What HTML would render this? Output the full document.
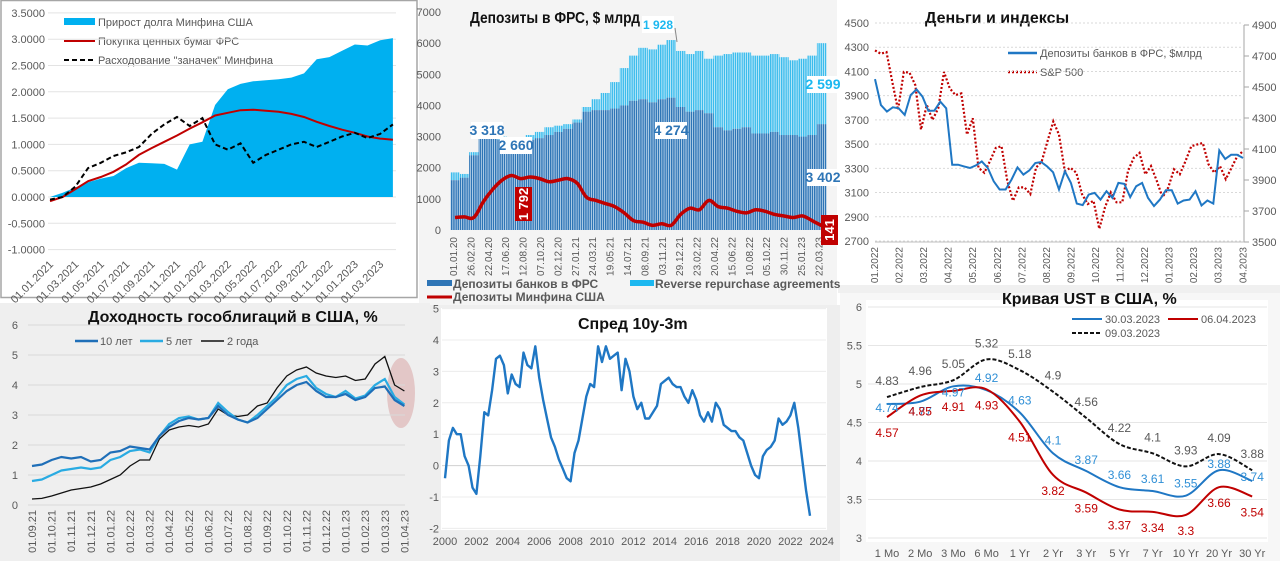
<!DOCTYPE html>
<html><head><meta charset="utf-8">
<style>
html,body{margin:0;padding:0;background:#fff;}
svg{display:block;font-family:"Liberation Sans","DejaVu Sans",sans-serif;}
.tk{font-size:11px;fill:#595959;}
.tks{font-size:10px;fill:#595959;}
.ttl{font-size:16px;font-weight:bold;fill:#111;}
.lg{font-size:11px;fill:#595959;}
</style></head>
<body>
<svg id="chart" width="1280" height="561" viewBox="0 0 1280 561" xmlns="http://www.w3.org/2000/svg">
<defs>
<pattern id="stDark" patternUnits="userSpaceOnUse" width="2.2" height="10"><rect width="2.2" height="10" fill="#dcebf7"/><rect width="1.5" height="10" fill="#2e75b6"/></pattern>
<pattern id="stLight" patternUnits="userSpaceOnUse" width="2.2" height="10"><rect width="2.2" height="10" fill="#e6f6fd"/><rect width="1.5" height="10" fill="#3cbcec"/></pattern>
</defs>
<rect x="0" y="0" width="1280" height="561" fill="#ffffff"/>
<rect x="1" y="0.5" width="416" height="297" fill="#fff" stroke="#a6a6a6" stroke-width="1.5"/>
<rect x="419" y="0" width="418" height="305" fill="#f4f4f4"/>
<rect x="838" y="285" width="442" height="8" fill="#f0f0f0"/>
<rect x="0" y="303" width="430" height="258" fill="#efefef"/>
<rect x="430" y="305" width="410" height="256" fill="#eeeeee"/>
<rect x="441" y="308" width="386" height="222" fill="#ffffff"/>
<rect x="840" y="293" width="440" height="268" fill="#f7f7f7"/>
<rect x="866" y="300" width="402" height="242" fill="#ffffff"/>

<text class="ttl" x="470" y="23" font-size="16" textLength="170" lengthAdjust="spacingAndGlyphs">Депозиты в ФРС, $ млрд</text>
<text class="ttl" x="925" y="23">Деньги и индексы</text>
<text class="ttl" x="88" y="322">Доходность гособлигаций в США, %</text>
<text class="ttl" x="578" y="329">Спред 10y-3m</text>
<text class="ttl" x="1002" y="304">Кривая UST в США, %</text>

<rect x="64" y="18" width="31" height="7" fill="#00b0f0"/>
<text class="lg" x="98" y="26">Прирост долга Минфина США</text>
<line x1="64" y1="41" x2="95" y2="41" stroke="#c00000" stroke-width="2"/>
<text class="lg" x="98" y="45">Покупка ценных бумаг ФРС</text>
<line x1="64" y1="60" x2="95" y2="60" stroke="#000" stroke-width="2" stroke-dasharray="5,3"/>
<text class="lg" x="98" y="64">Расходование "заначек" Минфина</text>

<rect x="427" y="280" width="25" height="6" fill="#2e75b6"/>
<text x="453" y="288" font-size="12" font-weight="bold" fill="#595959">Депозиты банков в ФРС</text>
<rect x="630" y="280" width="24" height="6" fill="#1cb8f0"/>
<text x="655" y="288" font-size="12" font-weight="bold" fill="#595959">Reverse repurchase agreements</text>
<line x1="427" y1="297" x2="452" y2="297" stroke="#c00000" stroke-width="3"/>
<text x="453" y="301" font-size="12" font-weight="bold" fill="#595959">Депозиты Минфина США</text>

<line x1="1008" y1="53" x2="1037" y2="53" stroke="#1f77c4" stroke-width="2.5"/>
<text class="lg" x="1040" y="57">Депозиты банков в ФРС, $млрд</text>
<line x1="1008" y1="72" x2="1037" y2="72" stroke="#c00000" stroke-width="2.5" stroke-dasharray="2,2"/>
<text class="lg" x="1040" y="76">S&amp;P 500</text>

<line x1="75" y1="341" x2="98" y2="341" stroke="#1f6fb8" stroke-width="2.5"/>
<text class="lg" x="100" y="345">10 лет</text>
<line x1="140" y1="341" x2="163" y2="341" stroke="#29abe2" stroke-width="2.5"/>
<text class="lg" x="166" y="345">5 лет</text>
<line x1="201" y1="341" x2="224" y2="341" stroke="#111" stroke-width="1.5"/>
<text class="lg" x="227" y="345">2 года</text>
<ellipse cx="401" cy="393" rx="14" ry="35" fill="#d9a5a5" opacity="0.55"/>

<line x1="1072" y1="319" x2="1102" y2="319" stroke="#1f77c4" stroke-width="2"/>
<text class="lg" x="1105" y="323">30.03.2023</text>
<line x1="1168" y1="319" x2="1198" y2="319" stroke="#c00000" stroke-width="2"/>
<text class="lg" x="1201" y="323">06.04.2023</text>
<line x1="1072" y1="333" x2="1102" y2="333" stroke="#111" stroke-width="2" stroke-dasharray="4,2"/>
<text class="lg" x="1105" y="337">09.03.2023</text>
</svg>
<script>
const p1Months = [0,1,2,3,4,5,6,7,8,9,10,11,12,13,14,15,16,17,18,19,20,21,22,23,24,25,26,27];
const p1Debt = [0,0.08,0.18,0.28,0.35,0.4,0.55,0.65,0.64,0.63,0.52,1.0,1.05,1.75,2.05,2.15,2.2,2.22,2.24,2.27,2.35,2.62,2.66,2.78,2.9,2.88,2.98,3.02];
const p1Fed = [-0.08,0.0,0.15,0.3,0.38,0.48,0.62,0.8,0.93,1.05,1.17,1.3,1.42,1.55,1.6,1.65,1.66,1.64,1.62,1.58,1.52,1.43,1.35,1.28,1.22,1.15,1.11,1.09];
const p1Stash = [-0.05,0.0,0.2,0.55,0.65,0.78,0.85,0.95,1.2,1.38,1.52,1.35,1.5,1.0,0.9,1.02,0.65,0.8,0.9,1.0,1.05,0.95,1.05,1.15,1.22,1.12,1.2,1.38];
const p1Ticks = [-1,-0.5,0,0.5,1,1.5,2,2.5,3,3.5];
const p1Labels = ['01.01.2021','01.03.2021','01.05.2021','01.07.2021','01.09.2021','01.11.2021','01.01.2022','01.03.2022','01.05.2022','01.07.2022','01.09.2022','01.11.2022','01.01.2023','01.03.2023'];
const p2Banks = [1600,1680,2400,3000,3200,2900,2700,2750,2900,2950,3050,3150,3250,3450,3800,3850,3850,3900,4000,4150,4200,4100,4200,4250,3950,3800,3850,3750,3300,3200,3250,3300,3100,3100,3150,3050,3050,3000,3050,3400];
const p2Total = [1850,1800,2500,3100,3300,3000,2850,2950,3050,3150,3300,3350,3400,3550,3950,4200,4400,4750,5200,5600,5850,5800,5950,6100,5750,5650,5750,5500,5600,5650,5700,5700,5600,5600,5650,5550,5450,5500,5600,6000];
const p2Treasury = [400,420,400,900,1300,1600,1750,1650,1700,1650,1550,1600,1650,1500,1050,950,850,750,550,300,250,150,200,150,500,700,650,950,750,700,600,550,650,600,500,450,400,450,300,141];
const p2Ticks = [0,1000,2000,3000,4000,5000,6000,7000];
const p2Labels = ['01.01.20','26.02.20','22.04.20','17.06.20','12.08.20','07.10.20','02.12.20','27.01.21','24.03.21','19.05.21','14.07.21','08.09.21','03.11.21','29.12.21','23.02.22','20.04.22','15.06.22','10.08.22','05.10.22','30.11.22','25.01.23','22.03.23'];
const p3Deposits = [4037,3823,3768,3804,3796,3741,3905,3952,3892,3774,3777,3851,3796,3330,3330,3316,3303,3324,3357,3303,3193,3125,3125,3207,3308,3248,3283,3344,3352,3316,3267,3125,3275,3180,3009,2996,3083,3097,3042,3111,3056,3180,3171,3062,3152,3180,3056,2988,3042,3119,3119,3009,3034,3042,3111,2993,3034,3009,3448,3377,3412,3412,3385];
const p3Sp500 = [4736,4715,4725,4533,4352,4597,4593,4512,4225,4384,4288,4363,4597,4491,4448,4459,4193,4299,3979,3947,4022,4107,4118,3894,3766,3852,3852,3809,3979,4022,4150,4278,4193,3958,3979,3947,3809,3745,3766,3585,3724,3820,3756,3756,3958,4043,4075,3937,3990,3894,3788,3852,3969,3937,4022,4118,4129,4139,4001,3947,3990,3905,3979,4054,4086];
const p3LeftTicks = [2700,2900,3100,3300,3500,3700,3900,4100,4300,4500];
const p3RightTicks = [3500,3700,3900,4100,4300,4500,4700,4900];
const p3Labels = ['01.2022','02.2022','03.2022','04.2022','05.2022','06.2022','07.2022','08.2022','09.2022','10.2022','11.2022','12.2022','01.2023','02.2023','03.2023','04.2023'];
const p4Y10 = [1.3,1.35,1.5,1.6,1.55,1.6,1.45,1.5,1.75,1.8,1.95,1.9,1.85,2.3,2.6,2.8,2.9,2.85,2.9,3.3,3.0,2.85,2.75,2.9,3.2,3.5,3.8,4.0,4.1,3.8,3.6,3.6,3.7,3.5,3.6,3.9,3.95,3.5,3.3];
const p4Y5 = [0.8,0.85,1.0,1.15,1.2,1.25,1.2,1.25,1.5,1.6,1.8,1.85,1.75,2.3,2.7,2.9,2.95,2.85,2.9,3.4,3.1,2.85,2.75,3.0,3.3,3.6,4.0,4.2,4.3,3.9,3.7,3.6,3.8,3.55,3.65,4.0,4.2,3.6,3.35];
const p4Y2 = [0.2,0.22,0.3,0.4,0.5,0.55,0.6,0.7,0.85,1.0,1.3,1.5,1.5,2.2,2.5,2.6,2.65,2.6,2.7,3.2,3.0,2.95,3.0,3.3,3.4,3.9,4.3,4.5,4.6,4.4,4.3,4.25,4.3,4.15,4.2,4.7,4.95,4.0,3.8];
const p4Ticks = [0,1,2,3,4,5,6];
const p4Labels = ['01.09.21','01.10.21','01.11.21','01.12.21','01.01.22','01.02.22','01.03.22','01.04.22','01.05.22','01.06.22','01.07.22','01.08.22','01.09.22','01.10.22','01.11.22','01.12.22','01.01.23','01.02.23','01.03.23','01.04.23'];
const p5Start = 2000;
const p5Spread = [-0.4,0.8,1.2,1.0, 1.0,0.3,0.0,-0.7, -0.9,0.3,1.7,1.6, 2.4,3.4,3.5,3.2, 2.3,2.9,2.6,2.5, 3.6,3.2,3.1,3.8, 2.8,2.1,1.5,0.9, 0.6,0.2,-0.1,-0.4, -0.5,0.4,0.8,1.5, 2.2,2.6,2.5,3.8, 3.3,3.8,3.4,3.5, 3.6,2.4,3.4,3.0, 2.2,1.8,2.0,1.5, 1.5,1.7,1.9,2.6, 2.7,2.8,2.6,2.5, 2.5,2.2,2.0,2.4, 2.1,1.6,1.4,1.7, 1.4,2.0,1.8,1.3, 1.2,1.1,1.1,0.9, 0.8,0.4,0.0,-0.3, -0.4,0.3,0.5,0.6, 0.8,1.5,1.3,1.4, 1.6,2.0,1.2,0.2, -0.8,-1.6];
const p5Ticks = [-2,-1,0,1,2,3,4,5];
const p5Years = [2000,2002,2004,2006,2008,2010,2012,2014,2016,2018,2020,2022,2024];
const p6Cats = ['1 Mo','2 Mo','3 Mo','6 Mo','1 Yr','2 Yr','3 Yr','5 Yr','7 Yr','10 Yr','20 Yr','30 Yr'];
const p6Blue = [4.74,4.77,4.97,4.92,4.63,4.1,3.87,3.66,3.61,3.55,3.88,3.74];
const p6Red = [4.57,4.85,4.91,4.93,4.51,3.82,3.59,3.37,3.34,3.3,3.66,3.54];
const p6Black = [4.83,4.96,5.05,5.32,5.18,4.9,4.56,4.22,4.1,3.93,4.09,3.88];
const p6Ticks = [3,3.5,4,4.5,5,5.5,6];

const NS='http://www.w3.org/2000/svg';
const svg=document.getElementById('chart');
function mk(tag,attrs,parent){const e=document.createElementNS(NS,tag);for(const k in attrs)e.setAttribute(k,attrs[k]);(parent||svg).appendChild(e);return e;}
function poly(xs,ys){return xs.map((x,i)=>(i?'L':'M')+x.toFixed(1)+','+ys[i].toFixed(1)).join(' ');}
function smooth(xs,ys){let d='M'+xs[0]+','+ys[0];for(let i=0;i<xs.length-1;i++){const x0=xs[i-1]??xs[i],y0=ys[i-1]??ys[i],x3=xs[i+2]??xs[i+1],y3=ys[i+2]??ys[i+1];const c1x=xs[i]+(xs[i+1]-x0)/6,c1y=ys[i]+(ys[i+1]-y0)/6,c2x=xs[i+1]-(x3-xs[i])/6,c2y=ys[i+1]-(y3-ys[i])/6;d+=` C${c1x},${c1y} ${c2x},${c2y} ${xs[i+1]},${ys[i+1]}`;}return d;}
function g(name){const e=mk('g',{});return e;}

(function(){
const x=m=>50+m*12.7, y=v=>197-v*52.6;
const G=g('debt-chart');
p1Ticks.forEach(t=>{
 const l=mk('line',{x1:48,x2:396,y1:y(t),y2:y(t),stroke:'#e3e3e3','stroke-width':1},G);
 
 const tx=mk('text',{x:45,y:y(t)+4,'text-anchor':'end',class:'tk'},G);tx.textContent=t.toFixed(4);
 
});
const xs=p1Months.map(x);
const a=mk('path',{d:poly(xs,p1Debt.map(y))+` L${xs[xs.length-1]},${y(0)} L${xs[0]},${y(0)} Z`,fill:'#00b0f0'},G);

const r=mk('path',{d:poly(xs,p1Fed.map(y)),fill:'none',stroke:'#c00000','stroke-width':2},G);

const b=mk('path',{d:poly(xs,p1Stash.map(y)),fill:'none',stroke:'#000','stroke-width':2,'stroke-dasharray':'5,3'},G);

p1Labels.forEach((s,i)=>{const px=x(i*2)+4,py=265;
 const t=mk('text',{x:px,y:py,'text-anchor':'end',class:'tk',transform:`rotate(-45 ${px} ${py})`},G);t.textContent=s;
 });
})();

(function(){
const x=m=>455+m*9.4, y=v=>230-v*0.03114;
const G=g('deposits-chart');
p2Ticks.forEach(t=>{const tx=mk('text',{x:441,y:y(t)+4,'text-anchor':'end',class:'tk'},G);tx.textContent=t;
 });
p2Banks.forEach((v,i)=>{
 const cx=x(i);
 const r1=mk('rect',{x:cx-4.7,y:y(p2Total[i]),width:9.4,height:y(v)-y(p2Total[i]),fill:'url(#stLight)'},G);
 
 const r2=mk('rect',{x:cx-4.7,y:y(v),width:9.4,height:y(0)-y(v),fill:'url(#stDark)'},G);
 
});
const xs=p2Treasury.map((v,i)=>x(i));
const l=mk('path',{d:smooth(xs,p2Treasury.map(y)),fill:'none',stroke:'#c00000','stroke-width':3.5},G);

p2Labels.forEach((s,i)=>{const px=453+i*17.4+4,py=237;
 const t=mk('text',{x:px,y:py,'text-anchor':'end',class:'tks',transform:`rotate(-90 ${px} ${py})`},G);t.textContent=s;
 });
const callouts=[['3 318',471,122,'#2e75b6','#fff'],['2 660',500,137,'#2e75b6','#fff'],['4 274',655,122,'#2e75b6','#fff'],['3 402',807,169,'#2e75b6','#fff'],['2 599',807,76,'#1cb8f0','#fff'],['1 928',642,16,'#1cb8f0','#fff']];
callouts.forEach(c=>{const bg=mk('rect',{x:c[1],y:c[2],width:32,height:17,fill:c[4]},G);
 
 const t=mk('text',{x:c[1]+16,y:c[2]+13,'text-anchor':'middle','font-size':c[0]==='1 928'?12:14,'font-weight':'bold',fill:c[3]},G);t.textContent=c[0];
 });
const rb=mk('rect',{x:515,y:187,width:17,height:34,fill:'#c00000'},G);
const rt=mk('text',{x:528,y:204,'text-anchor':'middle','font-size':13,'font-weight':'bold',fill:'#fff',transform:'rotate(-90 528 204)'},G);rt.textContent='1 792';

const eb=mk('rect',{x:821,y:215,width:17,height:30,fill:'#c00000'},G);
const et=mk('text',{x:834,y:230,'text-anchor':'middle','font-size':13,'font-weight':'bold',fill:'#fff',transform:'rotate(-90 834 230)'},G);et.textContent='141';

const pk=mk('line',{x1:675,y1:28,x2:677,y2:42,stroke:'#888'},G);
})();

(function(){
const yL=v=>23+(4500-v)*0.1211, yR=v=>25+(4900-v)*0.155;
const x0=875,x1=1243;
const G=g('money-chart');
p3LeftTicks.forEach(t=>{const l=mk('line',{x1:875,x2:1243,y1:yL(t),y2:yL(t),stroke:'#d9d9d9','stroke-dasharray':'2,2'},G);
 
 const tx=mk('text',{x:869,y:yL(t)+4,'text-anchor':'end',class:'tk'},G);tx.textContent=t;
 });
const ax=mk('line',{x1:1244,x2:1244,y1:25,y2:242,stroke:'#a6a6a6'},G);
const bx=mk('line',{x1:875,x2:1244,y1:242,y2:242,stroke:'#bfbfbf'},G);
p3RightTicks.forEach(t=>{const tk=mk('line',{x1:1244,x2:1249,y1:yR(t),y2:yR(t),stroke:'#a6a6a6'},G);
 
 const tx=mk('text',{x:1252,y:yR(t)+4,class:'tk'},G);tx.textContent=t;
 });
const xsA=p3Deposits.map((v,i)=>x0+i*(x1-x0)/(p3Deposits.length-1));
const xsB=p3Sp500.map((v,i)=>x0+i*(x1-x0)/(p3Sp500.length-1));
const sp=mk('path',{d:poly(xsB,p3Sp500.map(yR)),fill:'none',stroke:'#c00000','stroke-width':2.2,'stroke-dasharray':'2,2'},G);

const dp=mk('path',{d:poly(xsA,p3Deposits.map(yL)),fill:'none',stroke:'#1f77c4','stroke-width':2},G);

p3Labels.forEach((s,i)=>{const px=874+i*24.55+4,py=247;
 const t=mk('text',{x:px,y:py,'text-anchor':'end',class:'tks',transform:`rotate(-90 ${px} ${py})`},G);t.textContent=s;
 });
})();

(function(){
const x=k=>32+k*9.8, y=v=>505-v*30;
const G=g('yields-chart');
p4Ticks.forEach(t=>{const l=mk('line',{x1:28,x2:405,y1:y(t),y2:y(t),stroke:'#d9d9d9'},G);
 
 const tx=mk('text',{x:18,y:y(t)+4,'text-anchor':'end',class:'tk'},G);tx.textContent=t;
 });
const xs=p4Y10.map((v,i)=>x(i));
const s2=mk('path',{d:poly(xs,p4Y2.map(y)),fill:'none',stroke:'#111','stroke-width':1.3},G);

const s5=mk('path',{d:poly(xs,p4Y5.map(y)),fill:'none',stroke:'#29abe2','stroke-width':2.2},G);

const s10=mk('path',{d:poly(xs,p4Y10.map(y)),fill:'none',stroke:'#1f6fb8','stroke-width':2.2},G);

p4Labels.forEach((s,i)=>{const px=x(i*2)+4,py=510;
 const t=mk('text',{x:px,y:py,'text-anchor':'end',class:'tk',transform:`rotate(-90 ${px} ${py})`},G);t.textContent=s;
 });
})();

(function(){
const x=t=>445+(t-2000)*15.7, y=v=>465.6-v*31.4;
const G=g('spread-chart');
p5Ticks.forEach(t=>{const l=mk('line',{x1:442,x2:826,y1:y(t),y2:y(t),stroke:t===0?'#d0d0d0':'#ececec'},G);
 
 const tx=mk('text',{x:439,y:y(t)+4,'text-anchor':'end',class:'tk'},G);tx.textContent=t;
 });
p5Years.forEach(yr=>{const tx=mk('text',{x:x(yr),y:545,'text-anchor':'middle',class:'tk'},G);tx.textContent=yr;
 });
const xs=p5Spread.map((v,i)=>x(p5Start+i/4));
const l=mk('path',{d:poly(xs,p5Spread.map(y)),fill:'none',stroke:'#1f77c4','stroke-width':2.4,'stroke-linejoin':'round'},G);

})();

const p6BlueDy=[4,10,6,-12,-12,-13,-11,-12,-12,-12,-6,-4];
(function(){
const x=i=>887+i*33.2, y=v=>307+(6-v)*77;
const G=g('ust-curve-chart');
p6Ticks.forEach(t=>{const l=mk('line',{x1:868,x2:1267,y1:y(t),y2:y(t),stroke:'#e6e6e6'},G);
 
 const tx=mk('text',{x:862,y:y(t)+4,'text-anchor':'end',class:'tk'},G);tx.textContent=t;
 });
p6Cats.forEach((c,i)=>{const tx=mk('text',{x:x(i),y:557,'text-anchor':'middle',class:'tk'},G);tx.textContent=c;
 });
const xs=p6Cats.map((c,i)=>x(i));
const k=mk('path',{d:smooth(xs,p6Black.map(y)),fill:'none',stroke:'#111','stroke-width':2,'stroke-dasharray':'4,2'},G);

const b=mk('path',{d:smooth(xs,p6Blue.map(y)),fill:'none',stroke:'#1f77c4','stroke-width':2},G);

const r=mk('path',{d:smooth(xs,p6Red.map(y)),fill:'none',stroke:'#c00000','stroke-width':2},G);

p6Black.forEach((v,i)=>{const t=mk('text',{x:x(i),y:y(v)-12,'text-anchor':'middle','font-size':12,fill:'#595959'},G);t.textContent=v;
 });
p6Blue.forEach((v,i)=>{const t=mk('text',{x:x(i),y:y(v)+p6BlueDy[i]+4,'text-anchor':'middle','font-size':12,fill:'#2f8fd6'},G);t.textContent=v;
 });
p6Red.forEach((v,i)=>{const t=mk('text',{x:x(i),y:y(v)+20,'text-anchor':'middle','font-size':12,fill:'#c00000'},G);t.textContent=v;
 });
})();
</script>
</body></html>
